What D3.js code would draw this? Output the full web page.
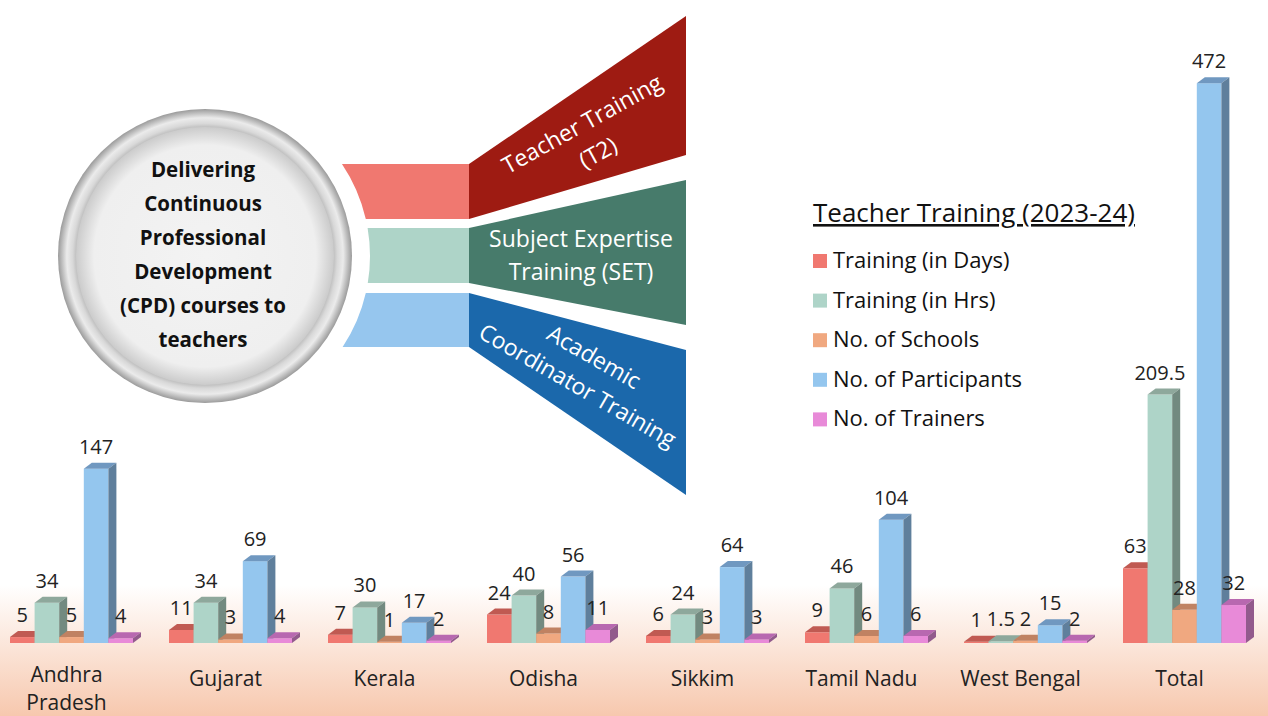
<!DOCTYPE html>
<html>
<head>
<meta charset="utf-8">
<script src="https://cdn.jsdelivr.net/npm/d3@7"></script>
<style>
  body { margin: 0; background: #fff; }
  svg { display: block; font-family: 'Open Sans', sans-serif; }
</style>
</head>
<body>
<svg id="chart" width="1268" height="716"></svg>
<script>
// chart data
const categories = ['Andhra Pradesh', 'Gujarat', 'Kerala', 'Odisha', 'Sikkim', 'Tamil Nadu', 'West Bengal', 'Total']
const seriesNames = ['Training (in Days)', 'Training (in Hrs)', 'No. of Schools', 'No. of Participants', 'No. of Trainers']
const trainingDays = [5, 11, 7, 24, 6, 9, 1, 63]
const trainingHrs = [34, 34, 30, 40, 24, 46, 1.5, 209.5]
const schools = [5, 3, 1, 8, 3, 6, 2, 28]
const participants = [147, 69, 17, 56, 64, 104, 15, 472]
const trainers = [4, 4, 2, 11, 3, 6, 2, 32]
const seriesValues = [trainingDays, trainingHrs, schools, participants, trainers]

// infographic text
const legendTitle = 'Teacher Training (2023-24)'
const centreLines = ['Delivering', 'Continuous', 'Professional', 'Development', '(CPD) courses to', 'teachers']
const programmes = [
  ['Teacher Training', '(T2)'],
  ['Subject Expertise', 'Training (SET)'],
  ['Academic', 'Coordinator Training']
]

const frontColors = ['#F07870', '#AED4C8', '#F0A880', '#94C6EE', '#E88AD8']
const topColors = ['#C05A52', '#8EA89C', '#C08262', '#7098C0', '#B868B0']
const sideColors = ['#A34A44', '#728A80', '#A06A50', '#5F7F9C', '#925A8C']

const svg = d3.select('#chart')
const width = +svg.attr('width')
const height = +svg.attr('height')
const defs = svg.append('defs')

// background fade at the bottom
const bg = defs.append('linearGradient').attr('id', 'floorFade').attr('x1', 0).attr('y1', 0).attr('x2', 0).attr('y2', 1)
bg.append('stop').attr('offset', 0).attr('stop-color', '#ffffff')
bg.append('stop').attr('offset', 1).attr('stop-color', '#F7C8AE')
svg.append('rect')
  .attr('x', 0).attr('y', 585)
  .attr('width', width).attr('height', height - 585)
  .style('fill', 'url(#floorFade)')

// ---- centre circle ----
const cx = 205, cy = 256
const ring = defs.append('radialGradient').attr('id', 'ringGrad')
ring.append('stop').attr('offset', 0.86).attr('stop-color', '#b0b0b0')
ring.append('stop').attr('offset', 0.9).attr('stop-color', '#d8d8d8')
ring.append('stop').attr('offset', 0.94).attr('stop-color', '#ebebeb')
ring.append('stop').attr('offset', 1).attr('stop-color', '#9a9a9a')
const disc = defs.append('radialGradient').attr('id', 'discGrad')
disc.append('stop').attr('offset', 0).attr('stop-color', '#f3f3f3')
disc.append('stop').attr('offset', 0.86).attr('stop-color', '#efefef')
disc.append('stop').attr('offset', 1).attr('stop-color', '#cbcbcb')

svg.append('circle').attr('cx', cx).attr('cy', cy).attr('r', 147).style('fill', 'url(#ringGrad)')
svg.append('circle').attr('cx', cx).attr('cy', cy).attr('r', 129).style('fill', 'url(#discGrad)')

svg.append('g').selectAll('text')
  .data(centreLines)
  .join('text')
  .attr('x', cx - 2)
  .attr('y', (d, i) => 177 + i * 34)
  .attr('text-anchor', 'middle')
  .attr('font-size', '20.5px')
  .attr('font-weight', 'bold')
  .style('fill', '#111')
  .text(d => d)

// ---- tabs and banners ----
const tabR = 165
const tabRight = 469, bannerRight = 686
const tabRows = [[164, 219], [228, 283], [293, 347]]
const bannerRows = [[16, 155], [180, 325], [350, 495]]
const tabColors = ['#F07870', '#AED4C8', '#96C6EE']
const bannerColors = ['#9E1B12', '#477B6B', '#1B68AB']

function arcX(yy) {
  return cx + Math.sqrt(tabR * tabR - (yy - cy) * (yy - cy))
}

tabRows.forEach((row, i) => {
  const [t, b] = row
  const p = d3.path()
  p.moveTo(arcX(t), t)
  p.lineTo(tabRight, t)
  p.lineTo(tabRight, b)
  p.lineTo(arcX(b), b)
  svg.append('path')
    .attr('d', p.toString() + ` A ${tabR} ${tabR} 0 0 0 ${arcX(t)} ${t} Z`)
    .style('fill', tabColors[i])

  const [bt, bb] = bannerRows[i]
  svg.append('path')
    .attr('d', `M${tabRight},${t} L${bannerRight},${bt} L${bannerRight},${bb} L${tabRight},${b} Z`)
    .style('fill', bannerColors[i])
})

const bannerText = [
  { x: 586, y: 131, rot: -29 },
  { x: 581, y: 247, rot: 0 },
  { x: 590, y: 364, rot: 30 }
]
programmes.forEach((lines, i) => {
  const g = svg.append('g')
    .attr('transform', `translate(${bannerText[i].x},${bannerText[i].y}) rotate(${bannerText[i].rot})`)
  g.selectAll('text')
    .data(lines)
    .join('text')
    .attr('x', 0)
    .attr('y', (d, j) => j * 33)
    .attr('text-anchor', 'middle')
    .attr('font-size', '23px')
    .style('fill', '#fff')
    .text(d => d)
})

// ---- legend ----
const legend = svg.append('g').attr('transform', 'translate(813,222)')
legend.append('text')
  .attr('x', 0).attr('y', 0)
  .attr('font-size', '26px')
  .attr('text-decoration', 'underline')
  .style('fill', '#111')
  .text(legendTitle)
const legendItems = legend.selectAll('g.item')
  .data(seriesNames)
  .join('g')
  .attr('class', 'item')
  .attr('transform', (d, i) => `translate(0,${38 + i * 39.6})`)
legendItems.append('rect')
  .attr('x', 0).attr('y', -6)
  .attr('width', 14).attr('height', 14)
  .style('fill', (d, i) => frontColors[i])
legendItems.append('text')
  .attr('x', 20).attr('y', 8)
  .attr('font-size', '22px')
  .style('fill', '#111')
  .text(d => d)

// ---- 3D clustered bars ----
const baseY = 643
const depthX = 8, depthY = -6
const x0 = d3.scaleBand().domain(categories).range([-8, 1264]).paddingInner(0.2264).paddingOuter(0.1132)
const x1 = d3.scaleBand().domain(seriesNames).range([0, x0.bandwidth()])
const y = d3.scaleLinear().domain([0, 500]).range([baseY, 50])

const barsG = svg.append('g')
const labelsG = svg.append('g')

categories.forEach((cat, ci) => {
  seriesNames.forEach((s, si) => {
    const v = seriesValues[si][ci]
    const bx = x0(cat) + x1(s)
    const bw = x1.bandwidth()
    const by = y(v)

    barsG.append('rect')
      .attr('x', bx).attr('y', by)
      .attr('width', bw).attr('height', baseY - by)
      .style('fill', frontColors[si])
    barsG.append('path')
      .attr('d', `M${bx},${by} L${bx + depthX},${by + depthY} L${bx + bw + depthX},${by + depthY} L${bx + bw},${by} Z`)
      .style('fill', topColors[si])
    barsG.append('path')
      .attr('d', `M${bx + bw},${by} L${bx + bw + depthX},${by + depthY} L${bx + bw + depthX},${baseY + depthY} L${bx + bw},${baseY} Z`)
      .style('fill', sideColors[si])

    labelsG.append('text')
      .attr('x', bx + bw / 2)
      .attr('y', by - 15)
      .attr('text-anchor', 'middle')
      .attr('font-size', '20px')
      .style('fill', '#222')
      .text(v)
  })
})

// category labels, wrapped when wider than the band
const catLabels = svg.append('g')
categories.forEach(cat => {
  const t = catLabels.append('text')
    .attr('x', x0(cat) + x0.bandwidth() / 2 - 5)
    .attr('y', 686)
    .attr('text-anchor', 'middle')
    .attr('font-size', '21px')
    .style('fill', '#222')
    .text(cat)
  if (t.node().getComputedTextLength() > x0.bandwidth() + 8) {
    const words = cat.split(' ')
    t.text(null).attr('y', 682)
    words.forEach((w, i) => {
      t.append('tspan')
        .attr('x', x0(cat) + x0.bandwidth() / 2 - 5)
        .attr('dy', i === 0 ? 0 : 28)
        .text(w)
    })
  }
})
</script>
</body>
</html>
